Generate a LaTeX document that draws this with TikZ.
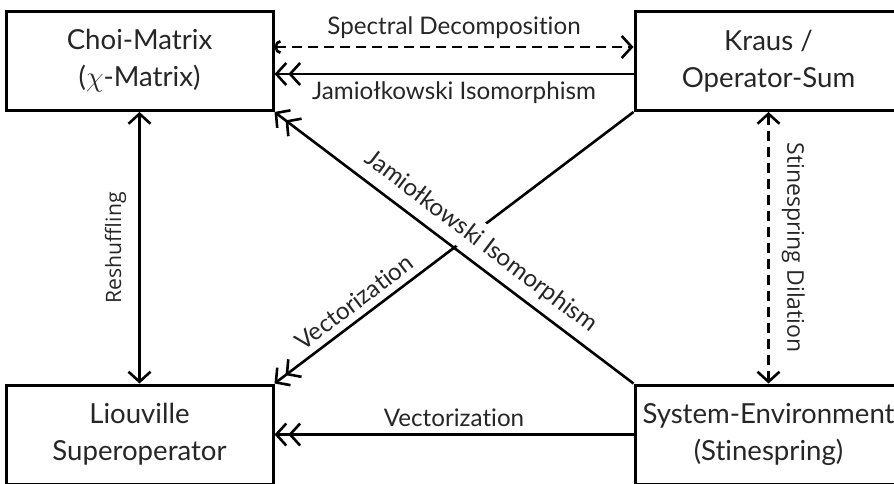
\documentclass[tikz,border=0pt]{standalone}
\usepackage{fontspec}
\setmainfont{Lato}[Ligatures=NoCommon]
\newfontfamily\sidefont{Open Sans}
\usetikzlibrary{arrows.meta}
\definecolor{inkgray}{HTML}{262626}
\tikzset{
  repbox/.style={draw, line width=1.5pt, minimum width=133.5pt, minimum height=49.5pt,
    align=center, text=inkgray, font=\fontsize{13.8}{18.5}\selectfont},
  maplink/.style={line width=1.3pt},
  dashlink/.style={maplink, dash pattern=on 5pt off 3pt},
  maplabel/.style={text=inkgray, font=\fontsize{12.1}{14}\selectfont},
  sidelabel/.style={text=inkgray, font=\sidefont\fontsize{11.5}{13}\selectfont},
  barb/.tip={Straight Barb[length=5pt,width=11pt]},
  dbarb/.tip={Straight Barb[length=5pt,width=11pt,sep=0.4pt] Straight Barb[length=5pt,width=11pt]},
  hooktail/.tip={Arc Barb[length=3pt,width=7pt]},
}
\begin{document}
\begin{tikzpicture}[x=0.5pt,y=0.5pt]
\useasboundingbox (0,0) rectangle (894,483);
\clip (0,0) rectangle (894,483);

\node[repbox] (choi) at (139.5,422) {Choi-Matrix\\($\chi$-Matrix)};
\node[repbox] (kraus) at (768.5,422) {Kraus /\\Operator-Sum};
\node[repbox] (liou) at (139.5,48.5) {Liouville\\Superoperator};
\node[repbox] (sysenv) at (768.5,48.5) {System-Environment\\(Stinespring)};

\draw[dashlink, hooktail-barb] ([yshift=7pt]choi.east) -- node[maplabel, above] {Spectral Decomposition} ([yshift=7pt]kraus.west);
\draw[maplink, -dbarb] ([yshift=-6.5pt]kraus.west) -- node[maplabel, below] {Jamiołkowski Isomorphism} ([yshift=-6.5pt]choi.east);

\draw[maplink, barb-barb] (liou.north) -- node[sidelabel, font=\sidefont\fontsize{10.6}{12}\selectfont, rotate=90, anchor=south, inner ysep=6pt] {Reshuffling} (choi.south);
\draw[dashlink, barb-barb] (kraus.south) -- node[sidelabel, rotate=-90, anchor=south, inner ysep=6pt] {Stinespring Dilation} (sysenv.north);

\draw[maplink, -dbarb] (sysenv.west) -- node[maplabel, above] {Vectorization} (liou.east);

\draw[maplink, dbarb-] (liou.north east) -- node[maplabel, sloped, above, pos=0.25] {Vectorization} (kraus.south west);
\draw[maplink, dbarb-] (choi.south east) -- node[maplabel, sloped, above=1pt, pos=0.54, fill=white] {Jamiołkowski Isomorphism} (sysenv.north west);
\end{tikzpicture}
\end{document}
